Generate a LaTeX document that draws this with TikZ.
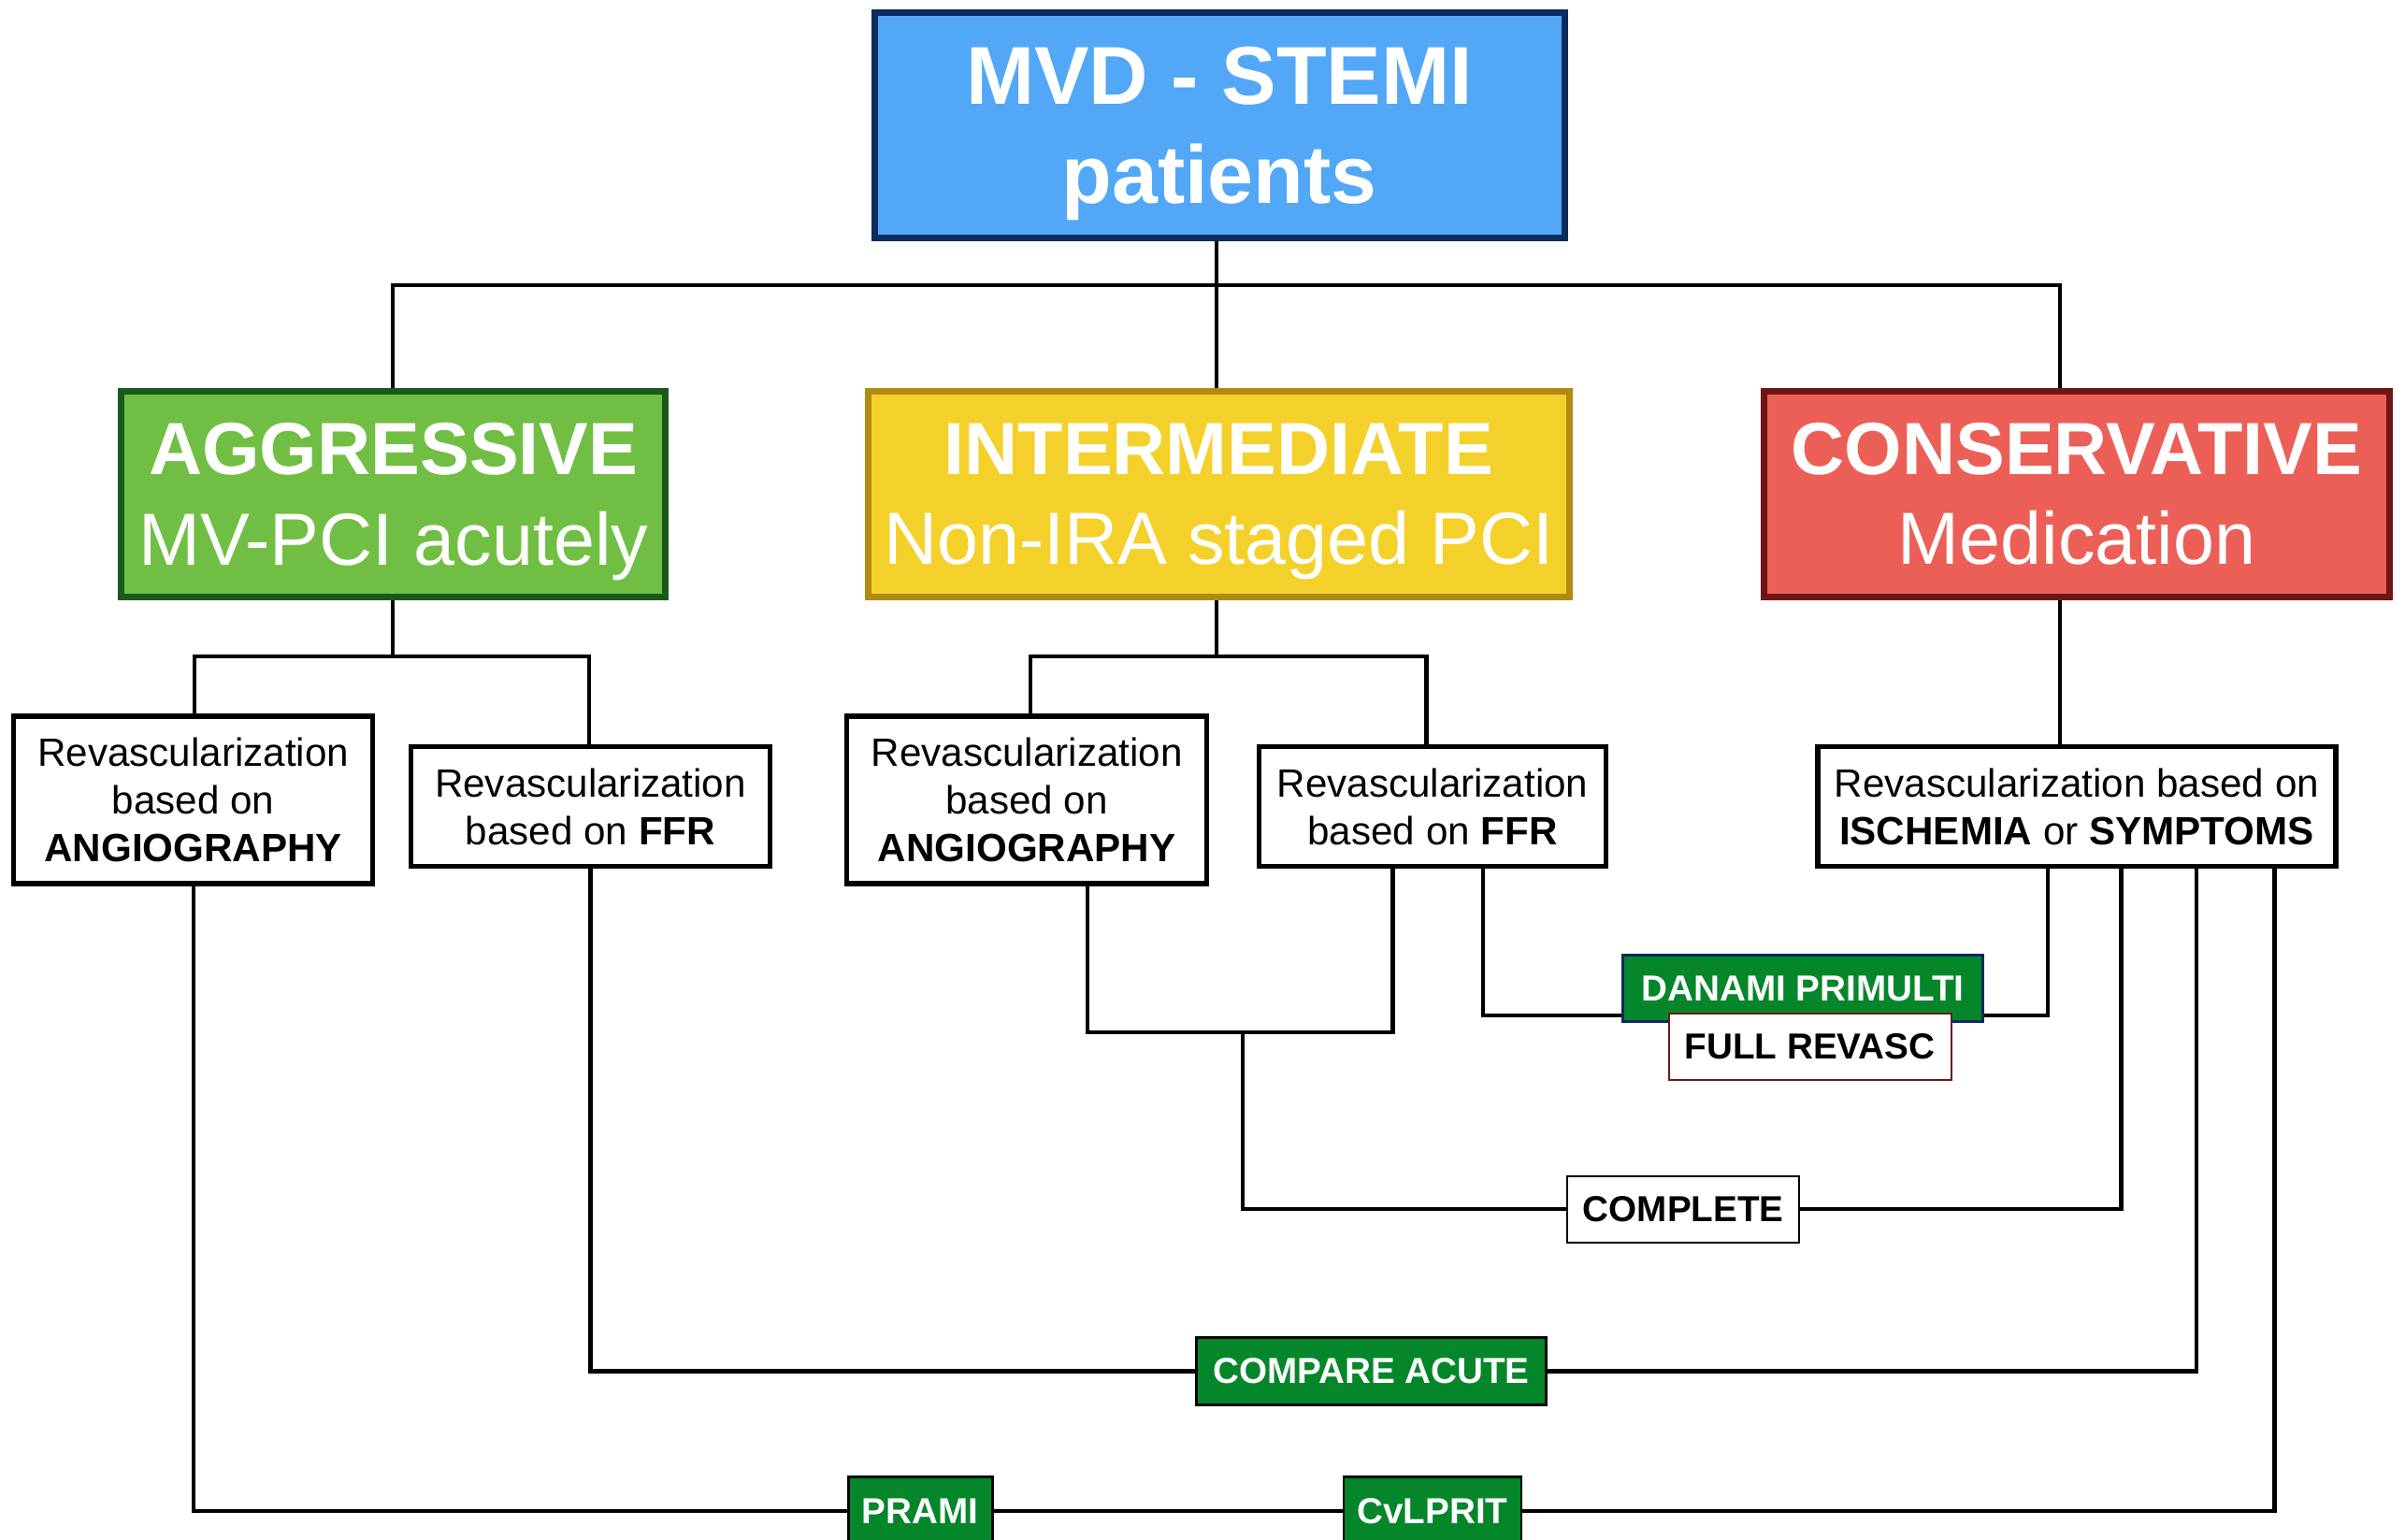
\documentclass[tikz,border=0pt]{standalone}
\usepackage{fontspec}
\setmainfont{Liberation Sans}
\usepackage{tikz}
\usetikzlibrary{positioning,calc}
\usepackage{xcolor}
\definecolor{mvdblue}{HTML}{52A7F6}
\definecolor{mvdedge}{HTML}{0B2B5E}
\definecolor{aggrfill}{HTML}{70BF44}
\definecolor{aggredge}{HTML}{185A1A}
\definecolor{interfill}{HTML}{F4D12A}
\definecolor{interedge}{HTML}{B08A12}
\definecolor{consfill}{HTML}{EB5F57}
\definecolor{consedge}{HTML}{6E1515}
\definecolor{trialgreen}{HTML}{05862A}
\definecolor{revedge}{HTML}{6B1A1A}

\begin{document}
\begin{tikzpicture}[x=0.0164cm, y=-0.0164cm,
        head/.style={draw, line width=2pt, text=white, align=center, inner sep=0pt},
        group/.style={head, minimum width=#1, minimum height=2.2cm, font=\fontsize{22.5}{27.5}\selectfont},
        revbox/.style={draw=black, line width=1.5pt, fill=white, align=center, inner sep=0pt,
            minimum width=#1, font=\fontsize{12}{14.5}\selectfont},
        trial/.style={fill=trialgreen, draw=black, line width=0.8pt, text=white, inner sep=0pt,
            minimum height=0.72cm, minimum width=#1, font=\fontsize{11}{13}\selectfont\bfseries},
        tag/.style={fill=white, draw=black, line width=0.6pt, inner sep=0pt,
            minimum height=0.71cm, minimum width=#1, font=\fontsize{11}{13}\selectfont\bfseries},
        wire/.style={draw=black, line width=1.2pt}
    ]
        \clip (0,0) rectangle (1568,1004);
        \useasboundingbox (0,0) rectangle (1568,1004);

        % patients
        \node[head, fill=mvdblue, draw=mvdedge, minimum width=7.38cm, minimum height=2.41cm,
            font=\fontsize{25}{30}\selectfont\bfseries] (mvd) at (795,81.5) {MVD - STEMI\\\smash{patients}};

        % strategies
        \node[group=5.82cm, fill=aggrfill, draw=aggredge] (aggr) at (256.5,322)
            {\textbf{AGGRESSIVE}\\\smash{MV-PCI acutely}};
        \node[group=7.5cm, fill=interfill, draw=interedge] (inter) at (794.5,322)
            {\textbf{INTERMEDIATE}\\\smash{Non-IRA staged PCI}};
        \node[group=6.69cm, fill=consfill, draw=consedge] (cons) at (1354,322)
            {\textbf{CONSERVATIVE}\\Medication};

        % revascularization
        \node[revbox=3.84cm, minimum height=1.79cm] (a1) at (126,521.5)
            {Revascularization\\based on\\\textbf{ANGIOGRAPHY}};
        \node[revbox=3.84cm, minimum height=1.28cm] (a2) at (385,526)
            {Revascularization\\based on \textbf{FFR}};
        \node[revbox=3.85cm, minimum height=1.79cm] (i1) at (669.5,521.5)
            {Revascularization\\based on\\\textbf{ANGIOGRAPHY}};
        \node[revbox=3.71cm, minimum height=1.28cm] (i2) at (934,526)
            {Revascularization\\based on \textbf{FFR}};
        \node[revbox=5.54cm, minimum height=1.28cm] (c1) at (1354,526)
            {Revascularization based on\\\textbf{ISCHEMIA} or \textbf{SYMPTOMS}};

        % trials
        \node[trial=3.85cm, draw=mvdedge, minimum height=0.71cm] (danami) at (1175.5,644.5) {DANAMI PRIMULTI};
        \node[tag=3.02cm, draw=revedge] (full) at (1180,682.5) {FULL REVASC};
        \node[tag=2.48cm] (complete) at (1097.5,788.5) {COMPLETE};
        \node[trial=3.74cm] (compare) at (894,894) {COMPARE ACUTE};
        \node[trial=1.54cm] (prami) at (600,985) {PRAMI};
        \node[trial=1.9cm] (cvlprit) at (934,985) {CvLPRIT};

        \coordinate (bus) at (793,186);
        \coordinate (cx) at (1343,0);
        \coordinate (ajoin) at (256,428);
        \coordinate (ijoin) at (793,428);
        \coordinate (imerge) at (810,673);
        \coordinate (dl) at ($(danami.south west)+(0,-5)$);

        \draw[wire] (mvd.south -| bus) -- (bus);
        \draw[wire] (aggr.north -| ajoin) |- (bus) -| (cons.north -| cx);
        \draw[wire] (bus) -- (bus |- inter.north);
        \draw[wire] (aggr.south -| ajoin) -- (ajoin);
        \draw[wire] ($(a1.north)+(1,0)$) |- (ajoin) -| ($(a2.north)+(-1,0)$);
        \draw[wire] (inter.south -| ijoin) -- (ijoin);
        \draw[wire] ($(i1.north)+(2.5,0)$) |- (ijoin) -| ($(i2.north)+(-4,0)$);
        \draw[wire] (cons.south -| cx) -- (c1.north -| cx);

        \draw[wire] ($(i1.south)+(39.5,0)$) |- (imerge) -| ($(i2.south)+(-26,0)$);
        \draw[wire] (imerge) |- (complete.west);
        \draw[wire] (complete.east) -| ($(c1.south)+(29,0)$);
        \draw[wire] ($(i2.south)+(33,0)$) |- (dl);
        \draw[wire] (dl -| danami.east) -| ($(c1.south)+(-19,0)$);
        \draw[wire] (a2.south) |- (compare.west);
        \draw[wire] (compare.east) -| ($(c1.south)+(78,0)$);
        \draw[wire] (a1.south) |- (prami.west);
        \draw[wire] (prami.east) -- (cvlprit.west);
        \draw[wire] (cvlprit.east) -| ($(c1.south)+(129,0)$);
\end{tikzpicture}
\end{document}
